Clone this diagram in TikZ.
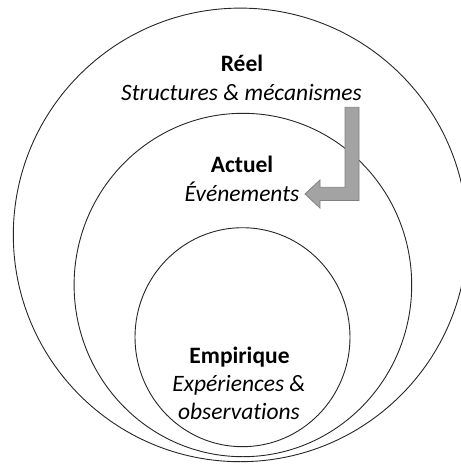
\documentclass[tikz,border=0pt]{standalone}
\usepackage{fontspec}
\setmainfont{Carlito}[Ligatures=NoCommon]
\begin{document}
\begin{tikzpicture}[x=1pt,y=-1pt,
  ring/.style={draw=black!85,line width=0.9pt},
  head/.style={anchor=base,font=\fontsize{23.5}{28}\selectfont\bfseries,inner sep=0pt},
  sub/.style={anchor=base,font=\fontsize{23.5}{28}\selectfont\itshape,inner sep=0pt},
  flow/.style={fill=black!36,draw=black!50,line width=0.8pt}]
\useasboundingbox (0,0) rectangle (461,464);
\clip (0,0) rectangle (461,464);
\draw[ring] (240.3,234.9) ellipse [x radius=227, y radius=226.8];
\draw[ring] (242.9,285.0) ellipse [x radius=168.8, y radius=171.7];
\draw[ring] (242.5,337.2) ellipse [x radius=107.5, y radius=109.5];
% arrow
\path[flow] (345,107.3) -- (359,107.3) -- (359,200.5) -- (320,200.5) -- (320,208) -- (305,194) -- (320,180) -- (320,187.3) -- (345,187.3) -- cycle;
\node[head] (reel) at (242,71.7) {Réel};
\node[sub] (reelsub) at (241.5,100) {Structures \& mécanismes};
\node[head] (actuel) at (242,172.7) {Actuel};
\node[sub] (actuelsub) at (242,201) {Événements};
\node[head] (emp) at (239.5,363.3) {Empirique};
\node[sub] (empsub1) at (239,391.7) {Expériences \&};
\node[sub] (empsub2) at (239,419.3) {observations};
\end{tikzpicture}
\end{document}
